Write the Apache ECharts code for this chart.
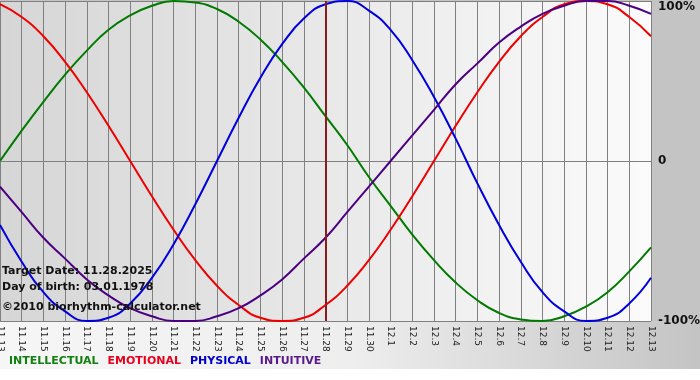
<!DOCTYPE html>
<html>
<head>
<meta charset="utf-8">
<script src="https://cdn.jsdelivr.net/npm/echarts@6/dist/echarts.min.js"></script>
<style>
  html, body { margin: 0; padding: 0; background: #fff; }
  #chart { width: 700px; height: 380px; }
</style>
</head>
<body>
<div id="chart"></div>
<script>
// days on the x axis
var days = ['11.13', '11.14', '11.15', '11.16', '11.17', '11.18', '11.19', '11.20', '11.21', '11.22',
    '11.23', '11.24', '11.25', '11.26', '11.27', '11.28', '11.29', '11.30', '12.1', '12.2',
    '12.3', '12.4', '12.5', '12.6', '12.7', '12.8', '12.9', '12.10', '12.11', '12.12', '12.13'];

// cycle values in %
var intellectual = [0, 19, 37, 54, 69, 82, 91, 97, 100, 99, 95, 87, 76, 62, 46, 28,
    10, -10, -28, -46, -62, -76, -87, -95, -99, -100, -97, -91, -82, -69, -54];
var emotional = [98, 90, 78, 62, 43, 22, 0, -22, -43, -62, -78, -90, -98, -100, -98, -90,
    -78, -62, -43, -22, 0, 22, 43, 62, 78, 90, 98, 100, 98, 90, 78];
var physical = [-40, -63, -82, -94, -100, -98, -89, -73, -52, -27, 0, 27, 52, 73, 89, 98,
    100, 94, 82, 63, 40, 14, -14, -40, -63, -82, -94, -100, -98, -89, -73];
var intuitive = [-16, -32, -48, -61, -74, -84, -92, -97, -100, -100, -97, -92, -84, -74, -61, -48,
    -32, -16, 0, 16, 32, 48, 61, 74, 84, 92, 97, 100, 100, 97, 92];

var targetDay = '11.28';
var yTicks = [-100, 0, 100];

var myChart = echarts.init(document.getElementById('chart'));

var option = {
    backgroundColor: '#c4c4c4',
    animation: false,
    textStyle: {fontFamily: 'DejaVu Sans'},
    graphic: [
        { // label strip under the plot
            type: 'rect', z: -10, silent: true,
            shape: {x: 0, y: 321, width: 700, height: 48},
            style: {
                fill: new echarts.graphic.LinearGradient(0, 0, 1, 0, [
                    {offset: 0, color: '#f6f6f6'},
                    {offset: 0.5, color: '#eeeeee'},
                    {offset: 1, color: '#c4c4c4'}
                ])
            }
        },
        {
            type: 'rect', z: -10, silent: true,
            shape: {x: 0, y: 369, width: 700, height: 11},
            style: {fill: '#ffffff'}
        },
        {
            type: 'text', left: 2, top: 266, z: 100,
            style: {text: 'Target Date: 11.28.2025', fill: '#111', font: 'bold 11px "DejaVu Sans"'}
        },
        {
            type: 'text', left: 2, top: 282, z: 100,
            style: {text: 'Day of birth: 03.01.1978', fill: '#111', font: 'bold 11px "DejaVu Sans"'}
        },
        {
            type: 'text', left: 2, top: 302, z: 100,
            style: {text: '\u00a92010 biorhythm-calculator.net', fill: '#111', font: 'bold 11px "DejaVu Sans"'}
        }
    ],
    legend: {
        left: 3,
        top: 356,
        padding: 0,
        itemWidth: 0,
        itemHeight: 0,
        itemGap: 3,
        selectedMode: false,
        textStyle: {fontSize: 11, fontWeight: 'bold', fontFamily: 'DejaVu Sans'},
        data: [
            {name: 'INTELLECTUAL', textStyle: {color: '#108010'}},
            {name: 'EMOTIONAL', textStyle: {color: '#e8001c'}},
            {name: 'PHYSICAL', textStyle: {color: '#0000cc'}},
            {name: 'INTUITIVE', textStyle: {color: '#5a1a8c'}}
        ]
    },
    grid: {
        left: 0,
        right: 49,
        top: 1,
        bottom: 59,
        outerBoundsMode: 'none',
        show: true,
        borderWidth: 0,
        backgroundColor: new echarts.graphic.LinearGradient(0, 0, 1, 0, [
            {offset: 0, color: '#d6d6d6'},
            {offset: 1, color: '#fbfbfb'}
        ])
    },
    xAxis: {
        type: 'category',
        data: days,
        boundaryGap: false,
        axisLine: {lineStyle: {color: '#808080', width: 1}},
        axisTick: {show: true, length: 4, lineStyle: {color: '#808080'}},
        splitLine: {show: true, interval: 0, lineStyle: {color: '#808080', width: 1}},
        axisLabel: {
            interval: 0,
            rotate: -90,
            margin: 5,
            fontSize: 9,
            color: '#222',
            fontFamily: 'DejaVu Sans'
        }
    },
    yAxis: {
        type: 'value',
        position: 'right',
        min: yTicks[0],
        max: yTicks[2],
        interval: 100,
        axisLine: {show: false},
        axisTick: {show: false},
        splitLine: {lineStyle: {color: '#808080', width: 1}},
        axisLabel: {
            margin: 7,
            fontSize: 12,
            fontWeight: 'bold',
            color: '#111',
            fontFamily: 'DejaVu Sans',
            formatter: function (v) {
                if (v === 100) return '{t|100%}';
                return v === 0 ? '0' : v + '%';
            },
            rich: {
                t: {fontSize: 12, fontWeight: 'bold', color: '#111', padding: [12, 0, 0, 0]}
            }
        }
    },
    series: [
        {
            name: 'INTELLECTUAL', type: 'line', data: intellectual,
            smooth: 0.5, showSymbol: false, color: '#007a00',
            lineStyle: {width: 2}
        },
        {
            name: 'EMOTIONAL', type: 'line', data: emotional,
            smooth: 0.5, showSymbol: false, color: '#ee0000',
            lineStyle: {width: 2}
        },
        {
            name: 'PHYSICAL', type: 'line', data: physical,
            smooth: 0.5, showSymbol: false, color: '#0000dd',
            lineStyle: {width: 2},
            markLine: {
                silent: true,
                symbol: 'none',
                label: {show: false},
                lineStyle: {color: '#8b1c1c', width: 2, type: 'solid'},
                data: [{xAxis: targetDay}]
            }
        },
        {
            name: 'INTUITIVE', type: 'line', data: intuitive,
            smooth: 0.5, showSymbol: false, color: '#4b0082',
            lineStyle: {width: 2}
        }
    ]
};
myChart.setOption(option);
</script>
</body>
</html>
